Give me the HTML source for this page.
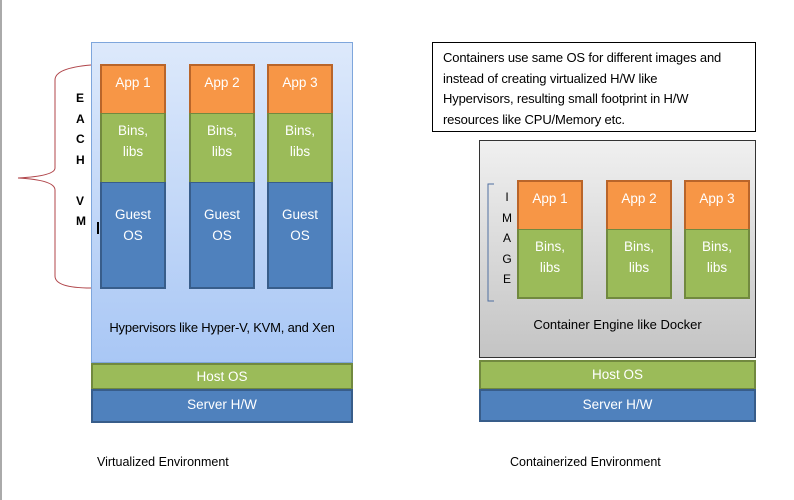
<!DOCTYPE html>
<html><head><style>
body{margin:0;width:794px;height:500px;background:#fff;position:relative;overflow:hidden;font-family:"Liberation Sans",sans-serif;}
div{position:absolute;box-sizing:border-box;}
.t{color:#fff;font-size:13.5px;text-align:center;line-height:21px;}
.app{background:#f79646;border:2px solid #b9652a;border-bottom:none;}
.bin{background:#9bbb59;border:2px solid #71893f;border-top:1px solid #71893f;border-bottom:none;}
.os{background:#4f81bd;border:2px solid #385d8a;border-top:1px solid #385d8a;}
.lt{color:#000;font-size:12px;font-weight:bold;}
</style></head><body>
<div style="left:0;top:0;width:2px;height:500px;background:#aaa"></div>
<div style="left:91px;top:42px;width:262px;height:321px;border:1px solid #7ea6dc;background:linear-gradient(#dde9fb,#a9c7f5)"></div>
<svg style="position:absolute;left:0;top:0" width="100" height="300"><path d="M91 65 Q55 68 55 80 L55 168 Q55 176 18 178 Q55 180 55 190 L55 276 Q55 288 91 288" fill="none" stroke="#b0454a" stroke-width="1"/></svg>
<div class="lt" style="left:76px;top:88px;line-height:20.5px">E<br>A<br>C<br>H<br><br>V<br>M</div>
<div style="left:97px;top:222px;width:2px;height:12px;background:#000"></div>

<div class="app t" style="left:100px;top:64px;width:66px;height:49px;padding-top:6px">App 1</div>
<div class="bin t" style="left:100px;top:113px;width:66px;height:69px;padding-top:6px">Bins,<br>libs</div>
<div class="os t" style="left:100px;top:182px;width:66px;height:107px;padding-top:21px">Guest<br>OS</div>
<div class="app t" style="left:189px;top:64px;width:66px;height:49px;padding-top:6px">App 2</div>
<div class="bin t" style="left:189px;top:113px;width:66px;height:69px;padding-top:6px">Bins,<br>libs</div>
<div class="os t" style="left:189px;top:182px;width:66px;height:107px;padding-top:21px">Guest<br>OS</div>
<div class="app t" style="left:267px;top:64px;width:66px;height:49px;padding-top:6px">App 3</div>
<div class="bin t" style="left:267px;top:113px;width:66px;height:69px;padding-top:6px">Bins,<br>libs</div>
<div class="os t" style="left:267px;top:182px;width:66px;height:107px;padding-top:21px">Guest<br>OS</div>
<div style="left:91px;top:320px;width:262px;text-align:center;font-size:13px;color:#000;letter-spacing:-0.2px">Hypervisors like Hyper-V, KVM, and Xen</div>
<div class="t" style="left:91px;top:363px;width:262px;height:27px;background:#9bbb59;border:2px solid #71893f;line-height:23px">Host OS</div>
<div class="t" style="left:91px;top:389px;width:262px;height:34px;background:#4f81bd;border:2px solid #385d8a;line-height:28px">Server H/W</div>
<div style="left:97px;top:455px;font-size:12.5px">Virtualized Environment</div>

<div style="left:432px;top:42px;width:324px;height:90px;border:1px solid #000;font-size:13px;line-height:20.5px;padding:5px 0 0 10px;white-space:nowrap;letter-spacing:-0.15px">Containers use same OS for different images and<br>instead of creating virtualized H/W like<br>Hypervisors, resulting small footprint in H/W<br>resources like CPU/Memory etc.</div>
<div style="left:479px;top:140px;width:277px;height:218px;border:1px solid #333;background:linear-gradient(#f0f0f0,#c4c4c4)"></div>
<svg style="position:absolute;left:480px;top:180px" width="20" height="130"><path d="M14 4 L8 4 L8 121 L14 121" fill="none" stroke="#4f6fa0" stroke-width="1"/></svg>
<div style="left:500px;top:187px;width:14px;text-align:center;font-size:12px;line-height:20.5px">I<br>M<br>A<br>G<br>E</div>
<div class="app t" style="left:517px;top:180px;width:66px;height:49px;padding-top:6px">App 1</div>
<div class="bin t" style="left:517px;top:229px;width:66px;height:70px;padding-top:6px;border-bottom:2px solid #71893f">Bins,<br>libs</div>
<div class="app t" style="left:606px;top:180px;width:66px;height:49px;padding-top:6px">App 2</div>
<div class="bin t" style="left:606px;top:229px;width:66px;height:70px;padding-top:6px;border-bottom:2px solid #71893f">Bins,<br>libs</div>
<div class="app t" style="left:684px;top:180px;width:66px;height:49px;padding-top:6px">App 3</div>
<div class="bin t" style="left:684px;top:229px;width:66px;height:70px;padding-top:6px;border-bottom:2px solid #71893f">Bins,<br>libs</div>
<div style="left:479px;top:317px;width:277px;text-align:center;font-size:13px">Container Engine like Docker</div>
<div class="t" style="left:479px;top:360px;width:277px;height:30px;background:#9bbb59;border:2px solid #71893f;line-height:26px">Host OS</div>
<div class="t" style="left:479px;top:389px;width:277px;height:33px;background:#4f81bd;border:2px solid #385d8a;line-height:27px">Server H/W</div>
<div style="left:510px;top:455px;font-size:12.5px">Containerized Environment</div>
</body></html>
